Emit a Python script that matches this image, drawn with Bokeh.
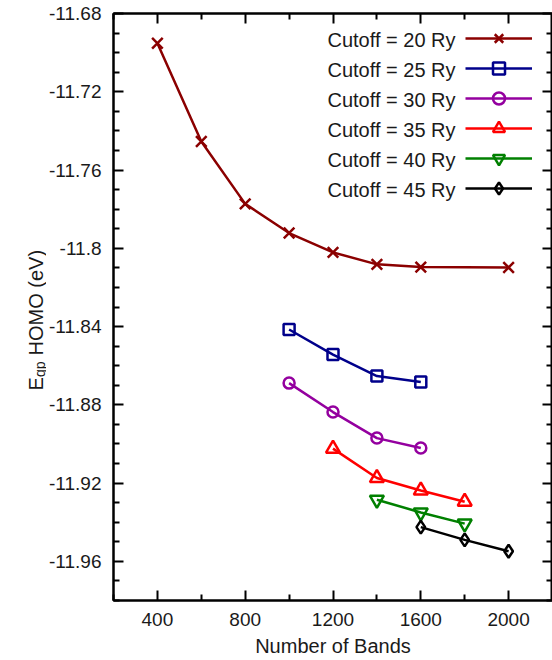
import math
from bokeh.plotting import figure
from bokeh.layouts import row
from bokeh.models import (Range1d, FixedTicker, LinearAxis, PrintfTickFormatter,
                          CustomJSTickFormatter, Legend, LegendItem, Label)
from bokeh.embed import file_html
from bokeh.resources import INLINE

# ---------------- data ----------------
bands_20 = [400, 600, 800, 1000, 1200, 1400, 1600, 2000]
e_20 = [-11.6952, -11.7454, -11.7773, -11.7922, -11.8021, -11.8082, -11.8096, -11.8098]

bands_25 = [1000, 1200, 1400, 1600]
e_25 = [-11.8415, -11.8543, -11.8653, -11.8683]

bands_30 = [1000, 1200, 1400, 1600]
e_30 = [-11.8689, -11.8837, -11.8970, -11.9021]

bands_35 = [1200, 1400, 1600, 1800]
e_35 = [-11.9024, -11.9174, -11.9238, -11.9295]

bands_40 = [1400, 1600, 1800]
e_40 = [-11.9285, -11.9350, -11.9407]

bands_45 = [1600, 1800, 2000]
e_45 = [-11.9425, -11.9490, -11.9548]

series_labels = ["Cutoff = 20 Ry", "Cutoff = 25 Ry", "Cutoff = 30 Ry",
                 "Cutoff = 35 Ry", "Cutoff = 40 Ry", "Cutoff = 45 Ry"]

x_major_ticks = [400, 800, 1200, 1600, 2000]
x_minor_ticks = [200, 600, 1000, 1400, 1800, 2200]
y_major_ticks = [-11.68, -11.72, -11.76, -11.80, -11.84, -11.88, -11.92, -11.96]
y_minor_ticks = [-11.98, -11.97, -11.95, -11.94, -11.93, -11.91, -11.90, -11.89,
                 -11.87, -11.86, -11.85, -11.83, -11.82, -11.81, -11.79, -11.78,
                 -11.77, -11.75, -11.74, -11.73, -11.71, -11.70, -11.69]

x_label = "Number of Bands"
y_label_main = "E"
y_label_sub = "qp"
y_label_rest = "HOMO (eV)"

# ---------------- styles ----------------
FONT = "Liberation Sans"
FS = "20px"
FS_TICK = "19px"
TXT = "#1a1a1a"
styles = [
    dict(color="#8B0000", marker="x", size=15),
    dict(color="#00008B", marker="square", size=11),
    dict(color="#94009F", marker="circle", size=11),
    dict(color="#FF0000", marker="triangle", size=14),
    dict(color="#008000", marker="inverted_triangle", size=14),
    dict(color="#000000", marker="diamond", size=13),
]
series = [(bands_20, e_20), (bands_25, e_25), (bands_30, e_30),
          (bands_35, e_35), (bands_40, e_40), (bands_45, e_45)]

TITLE_W = 46
TOTAL_H = 660
FRAME_LEFT_BORDER = 67
FRAME_TOP = 13
FRAME_W = 439
FRAME_H = 587

# ---------------- y-axis title panel (no axes, no title) ----------------
tf = figure(frame_width=TITLE_W, frame_height=TOTAL_H, title=None,
            x_range=Range1d(0, TITLE_W), y_range=Range1d(0, TOTAL_H),
            min_border=0, min_border_left=0, min_border_right=0,
            min_border_top=0, min_border_bottom=0,
            x_axis_location=None, y_axis_location=None,
            output_backend="svg", toolbar_location=None)
tf.grid.visible = False
tf.outline_line_color = None
tf.border_fill_color = "white"
tf.background_fill_color = "white"

y_start = 283
base_x = 35
tf.add_layout(Label(x=base_x, y=y_start, text=y_label_main, angle=math.pi / 2,
                    text_align="left", text_baseline="alphabetic",
                    text_font=FONT, text_font_size=FS, text_color=TXT))
tf.add_layout(Label(x=base_x + 4, y=y_start + 13.5, text=y_label_sub, angle=math.pi / 2,
                    text_align="left", text_baseline="alphabetic",
                    text_font=FONT, text_font_size="14px", text_color=TXT))
tf.add_layout(Label(x=base_x, y=y_start + 35, text=y_label_rest, angle=math.pi / 2,
                    text_align="left", text_baseline="alphabetic",
                    text_font=FONT, text_font_size=FS, text_color=TXT))

# ---------------- main plot ----------------
p = figure(frame_width=FRAME_W, frame_height=FRAME_H,
           min_border_left=FRAME_LEFT_BORDER, min_border_top=FRAME_TOP,
           min_border_right=0, min_border_bottom=TOTAL_H - FRAME_TOP - FRAME_H,
           x_range=Range1d(200, 2200), y_range=Range1d(-11.98, -11.68),
           output_backend="svg", toolbar_location=None)
p.background_fill_color = "white"
p.border_fill_color = "white"
p.xgrid.visible = False
p.ygrid.visible = False
p.outline_line_color = "black"
p.outline_line_width = 2

xt = FixedTicker(ticks=x_major_ticks, minor_ticks=x_minor_ticks)
yt = FixedTicker(ticks=y_major_ticks, minor_ticks=y_minor_ticks)


def style_axis(ax, ticker, show_labels):
    ax.ticker = ticker
    ax.axis_line_color = "black"
    ax.axis_line_width = 2
    ax.major_tick_in = 10
    ax.major_tick_out = 0
    ax.minor_tick_in = 6
    ax.minor_tick_out = 0
    ax.major_tick_line_width = 2
    ax.minor_tick_line_width = 2
    ax.major_tick_line_color = "black"
    ax.minor_tick_line_color = "black"
    ax.major_label_text_font = FONT
    ax.major_label_text_font_size = FS_TICK
    ax.major_label_text_color = TXT
    if not show_labels:
        ax.formatter = CustomJSTickFormatter(code="return ''")
        ax.major_label_standoff = 0


style_axis(p.xaxis[0], xt, True)
style_axis(p.yaxis[0], yt, True)
p.xaxis[0].major_label_standoff = 12
p.yaxis[0].major_label_standoff = 12
p.yaxis[0].formatter = PrintfTickFormatter(format="%g")
p.xaxis[0].axis_label = x_label
p.xaxis[0].axis_label_text_font = FONT
p.xaxis[0].axis_label_text_font_size = FS
p.xaxis[0].axis_label_text_font_style = "normal"
p.xaxis[0].axis_label_text_color = TXT
p.xaxis[0].axis_label_standoff = 6

top_ax = LinearAxis()
right_ax = LinearAxis()
style_axis(top_ax, xt, False)
style_axis(right_ax, yt, False)
p.add_layout(top_ax, "above")
p.add_layout(right_ax, "right")

items = []
for (bx, ey), st in zip(series, styles):
    lr = p.line(bx, ey, line_color=st["color"], line_width=2.5)
    sr = p.scatter(bx, ey, marker=st["marker"], size=st["size"],
                   line_color=st["color"], line_width=2.5, fill_color=None)
    items.append(LegendItem(label=" ", renderers=[lr, sr]))

legend = Legend(items=items, location=(352, 397), orientation="vertical",
                glyph_width=67, glyph_height=30, spacing=0,
                label_width=0, label_standoff=0, label_height=1,
                label_text_font_size="1px", padding=0, margin=0,
                border_line_color=None, background_fill_alpha=0)
p.add_layout(legend, "center")

# legend texts, right-aligned to the left of the samples
for i, lab in enumerate(series_labels):
    p.add_layout(Label(x=342, y=FRAME_H - 26 - 30 * i, x_units="screen", y_units="screen",
                       text=lab, text_align="right", text_baseline="middle",
                       text_font=FONT, text_font_size=FS, text_color=TXT))

layout = row(tf, p, spacing=0)
open("out.html", "w").write(file_html(layout, INLINE))
